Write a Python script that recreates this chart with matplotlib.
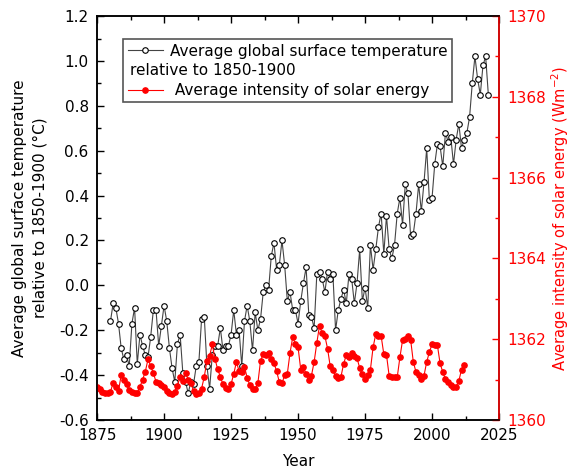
import numpy as np
import matplotlib.pyplot as plt
import matplotlib.transforms as mtransforms
from matplotlib.lines import Line2D

plt.rcParams['font.family'] = 'DejaVu Sans'
plt.rcParams['axes.unicode_minus'] = False

# Global surface temperature anomaly relative to 1850-1900 (deg C)
temp_years = np.arange(1880, 2022)
temp = [
    -0.16, -0.08, -0.10, -0.17, -0.28, -0.33, -0.31, -0.36, -0.17, -0.10,  # 1880s
    -0.35, -0.22, -0.27, -0.31, -0.32, -0.23, -0.11, -0.11, -0.27, -0.18,  # 1890s
    -0.09, -0.16, -0.28, -0.37, -0.43, -0.26, -0.22, -0.39, -0.43, -0.48,  # 1900s
    -0.43, -0.44, -0.36, -0.34, -0.15, -0.14, -0.36, -0.46, -0.31, -0.27,  # 1910s
    -0.27, -0.19, -0.29, -0.27, -0.27, -0.22, -0.11, -0.22, -0.20, -0.36,  # 1920s
    -0.16, -0.09, -0.16, -0.29, -0.12, -0.20, -0.15, -0.03, 0.00, -0.02,   # 1930s
    0.13, 0.19, 0.07, 0.09, 0.20, 0.09, -0.07, -0.03, -0.11, -0.11,        # 1940s
    -0.17, -0.07, 0.01, 0.08, -0.13, -0.14, -0.19, 0.05, 0.06, 0.03,       # 1950s
    -0.03, 0.06, 0.03, 0.05, -0.20, -0.11, -0.06, -0.02, -0.08, 0.05,      # 1960s
    0.03, -0.08, 0.01, 0.16, -0.07, -0.01, -0.10, 0.18, 0.07, 0.16,        # 1970s
    0.26, 0.32, 0.14, 0.31, 0.16, 0.12, 0.18, 0.32, 0.39, 0.27,            # 1980s
    0.45, 0.41, 0.22, 0.23, 0.32, 0.45, 0.33, 0.46, 0.61, 0.38,            # 1990s
    0.39, 0.54, 0.63, 0.62, 0.53, 0.68, 0.64, 0.66, 0.54, 0.65,            # 2000s
    0.72, 0.61, 0.65, 0.68, 0.75, 0.90, 1.02, 0.92, 0.85, 0.98,            # 2010s
    1.02, 0.85,                                                            # 2020s
]

# Total solar irradiance (W m^-2)
solar_years = np.arange(1875, 2013)
solar = [
    1360.82, 1360.77, 1360.70, 1360.66, 1360.68,                                # 1875-79
    1360.70, 1360.92, 1360.82, 1360.73, 1361.11, 1360.99, 1360.88, 1360.74, 1360.70, 1360.66,
    1360.68, 1360.82, 1361.00, 1361.20, 1361.50, 1361.34, 1361.16, 1360.95, 1360.91, 1360.87,
    1360.82, 1360.73, 1360.66, 1360.64, 1360.70, 1360.85, 1361.07, 1360.97, 1361.17, 1361.00,
    1360.91, 1360.72, 1360.64, 1360.68, 1360.78, 1361.07, 1361.47, 1361.59, 1361.87, 1361.51,
    1361.26, 1361.07, 1360.88, 1360.80, 1360.77, 1360.89, 1361.14, 1361.44, 1361.21, 1361.19,
    1361.32, 1361.05, 1360.86, 1360.77, 1360.77, 1360.91, 1361.47, 1361.63, 1361.62, 1361.66,
    1361.50, 1361.41, 1361.21, 1360.94, 1360.91, 1361.11, 1361.15, 1361.66, 1362.05, 1361.89,
    1361.80, 1361.25, 1361.31, 1361.15, 1360.99, 1361.10, 1361.44, 1361.91, 1362.34, 1362.15,
    1362.08, 1361.77, 1361.33, 1361.24, 1361.08, 1361.03, 1361.07, 1361.39, 1361.61, 1361.56,
    1361.67, 1361.58, 1361.53, 1361.29, 1361.13, 1361.01, 1361.11, 1361.25, 1361.80, 1362.13,
    1362.07, 1362.08, 1361.63, 1361.61, 1361.09, 1361.06, 1361.06, 1361.06, 1361.55, 1361.98,
    1362.00, 1362.08, 1361.99, 1361.44, 1361.19, 1361.11, 1361.02, 1361.10, 1361.44, 1361.68,
    1361.88, 1361.85, 1361.85, 1361.40, 1361.19, 1361.01, 1360.95, 1360.87, 1360.82, 1360.82,
    1360.97, 1361.25, 1361.36,
]

temp_label = 'Average global surface temperature'
temp_label2 = 'relative to 1850-1900'
solar_label = ' Average intensity of solar energy'

fig = plt.figure(figsize=(5.71, 4.73), dpi=100)
ax = fig.add_axes([0.170, 0.112, 0.704, 0.854])
ax2 = ax.twinx()

l1, = ax.plot(temp_years, temp, color='#444444', lw=0.8, marker='o', ms=4,
              mfc='white', mec='black', mew=0.8)
l2, = ax2.plot(solar_years, solar, color='red', lw=0.8, marker='o', ms=3.8,
               mfc='red', mec='red')

ax.set_xlim(1875, 2025)
ax.set_ylim(-0.6, 1.2)
ax2.set_ylim(1360, 1370)

ax.set_xticks(np.arange(1875, 2026, 25))
ax.set_xticks(np.arange(1887.5, 2025, 25), minor=True)
ax.set_yticks(np.round(np.arange(-0.6, 1.21, 0.2), 1))
ax.set_yticks(np.round(np.arange(-0.5, 1.2, 0.2), 1), minor=True)
ax2.set_yticks(np.arange(1360, 1371, 2))
ax2.set_yticks(np.arange(1361, 1370, 2), minor=True)

ax.tick_params(which='both', direction='in', top=True, labelsize=11, pad=6, width=1)
ax.tick_params(which='major', length=5)
ax.tick_params(which='minor', length=3)
ax2.tick_params(axis='y', which='both', direction='in', colors='red',
                labelsize=11, pad=6, width=1)
ax2.tick_params(axis='y', which='major', length=5)
ax2.tick_params(axis='y', which='minor', length=3)

for sp in ax.spines.values():
    sp.set_linewidth(1.1)
for sp in ax2.spines.values():
    sp.set_linewidth(1.1)
ax2.spines['right'].set_color('red')

ax.set_xlabel('Year', fontsize=11, labelpad=8)
ax.set_ylabel('Average global surface temperature\nrelative to 1850-1900 (°C)',
              fontsize=11, linespacing=1.5, labelpad=8)
ax2.set_ylabel('Average intensity of solar energy (Wm$^{-2}$)', color='red',
               fontsize=10.5, labelpad=2)

blank = Line2D([], [], linestyle='none')
leg = ax2.legend([l1, blank, l2], [temp_label, temp_label2, solar_label],
                 loc='upper left', bbox_to_anchor=(0.065, 0.943), borderaxespad=0,
                 fontsize=11, fancybox=False, edgecolor='#555555', framealpha=1,
                 labelspacing=0.3, handlelength=2.3, handletextpad=0.45, borderpad=0.3)
leg.get_frame().set_linewidth(1.2)
# second line of the temperature label starts under the handle
t = leg.get_texts()[1]
shift = -(2.3 + 0.45) * 11 / 72 + 0.02
t.set_transform(t.get_transform() + mtransforms.ScaledTranslation(shift, 0, fig.dpi_scale_trans))

plt.savefig('out.png', dpi=100)
